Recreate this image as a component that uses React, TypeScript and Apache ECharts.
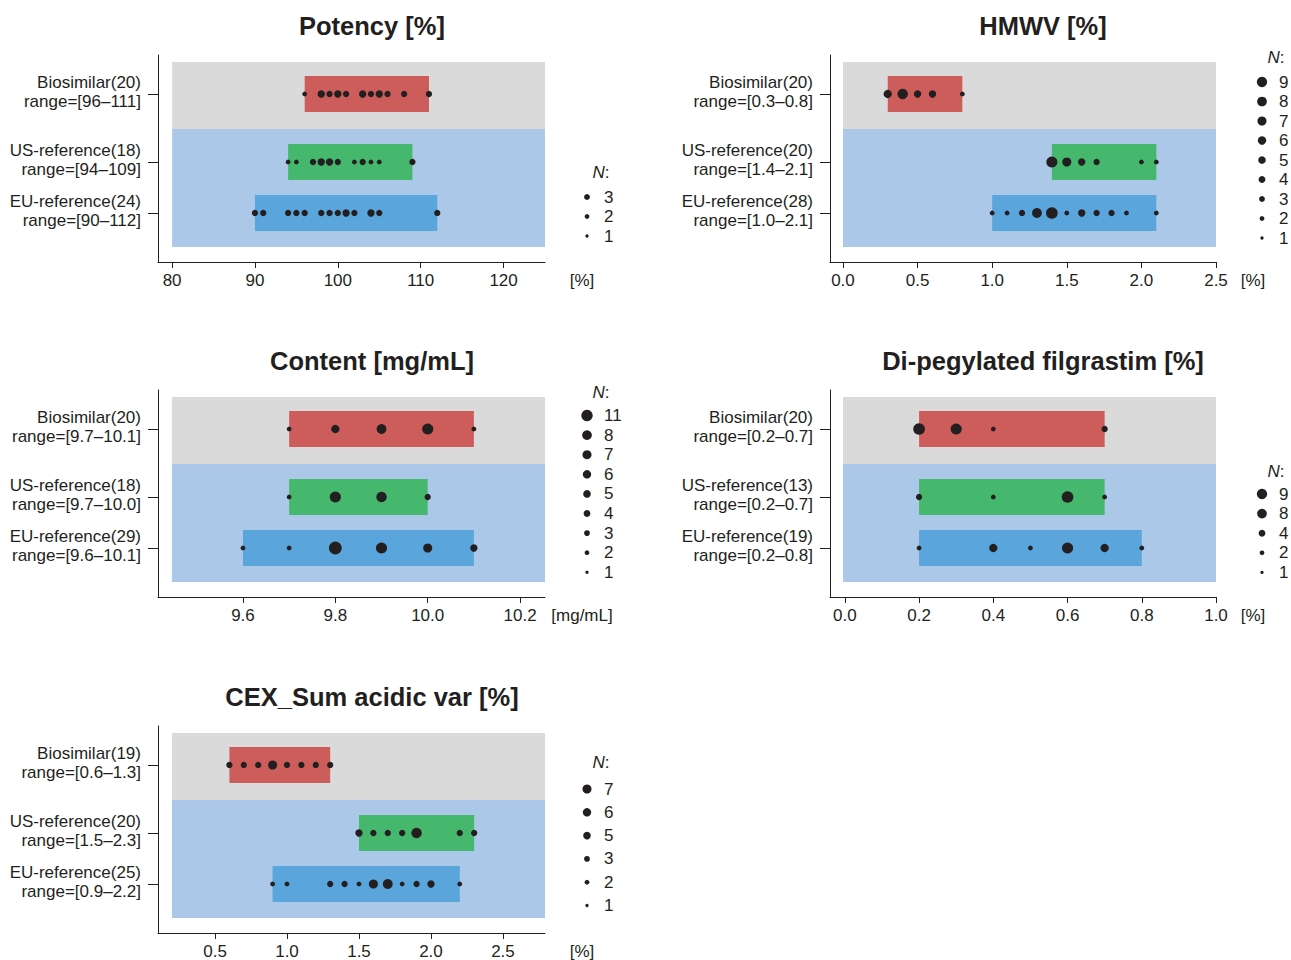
import React, { useEffect, useRef } from 'react';
import * as echarts from 'echarts';

const FONT = '"Liberation Sans", Arial, Helvetica, sans-serif';
const INK = '#231f20';
const GROUP_NAMES = ['Biosimilar', 'US-reference', 'EU-reference'];
const GROUP_COLORS = ['#CD5D5B', '#45B86E', '#5AA5DB'];
const BG_COLORS = ['#DADADA', '#ABC8E9'];

// ---------- Potency [%]
const potencyTicks = [80, 90, 100, 110, 120];
const potencyN = [20, 18, 24];
const potencyRanges = [[96, 111], [94, 109], [90, 112]];
const potencyBioX = [96, 98, 99, 100, 101, 103, 104, 105, 106, 108, 111];
const potencyBioCount = [1, 3, 2, 3, 2, 3, 2, 3, 2, 2, 2];
const potencyUsX = [94, 95, 97, 98, 99, 100, 102, 103, 104, 105, 109];
const potencyUsCount = [1, 1, 2, 3, 3, 2, 1, 2, 1, 1, 2];
const potencyEuX = [90, 91, 94, 95, 96, 98, 99, 100, 101, 102, 104, 105, 112];
const potencyEuCount = [2, 2, 2, 2, 2, 2, 2, 2, 3, 2, 3, 2, 2];
const potencyLegend = [3, 2, 1];

// ---------- HMWV [%]
const hmwvTicks = [0, 0.5, 1.0, 1.5, 2.0, 2.5];
const hmwvN = [20, 20, 28];
const hmwvRanges = [[0.3, 0.8], [1.4, 2.1], [1.0, 2.1]];
const hmwvBioX = [0.3, 0.4, 0.5, 0.6, 0.8];
const hmwvBioCount = [4, 7, 3, 3, 1];
const hmwvUsX = [1.4, 1.5, 1.6, 1.7, 2.0, 2.1];
const hmwvUsCount = [8, 5, 3, 2, 1, 1];
const hmwvEuX = [1.0, 1.1, 1.2, 1.3, 1.4, 1.5, 1.6, 1.7, 1.8, 1.9, 2.1];
const hmwvEuCount = [1, 1, 2, 6, 9, 1, 3, 2, 2, 1, 1];
const hmwvLegend = [9, 8, 7, 6, 5, 4, 3, 2, 1];

// ---------- Content [mg/mL]
const contentTicks = [9.6, 9.8, 10.0, 10.2];
const contentN = [20, 18, 29];
const contentRanges = [[9.7, 10.1], [9.7, 10.0], [9.6, 10.1]];
const contentBioX = [9.7, 9.8, 9.9, 10.0, 10.1];
const contentBioCount = [1, 4, 6, 8, 1];
const contentUsX = [9.7, 9.8, 9.9, 10.0];
const contentUsCount = [1, 8, 7, 2];
const contentEuX = [9.6, 9.7, 9.8, 9.9, 10.0, 10.1];
const contentEuCount = [1, 1, 11, 8, 5, 3];
const contentLegend = [11, 8, 7, 6, 5, 4, 3, 2, 1];

// ---------- Di-pegylated filgrastim [%]
const dipegTicks = [0, 0.2, 0.4, 0.6, 0.8, 1.0];
const dipegN = [20, 13, 19];
const dipegRanges = [[0.2, 0.7], [0.2, 0.7], [0.2, 0.8]];
const dipegBioX = [0.2, 0.3, 0.4, 0.7];
const dipegBioCount = [9, 8, 1, 2];
const dipegUsX = [0.2, 0.4, 0.6, 0.7];
const dipegUsCount = [2, 1, 9, 1];
const dipegEuX = [0.2, 0.4, 0.5, 0.6, 0.7, 0.8];
const dipegEuCount = [1, 4, 1, 8, 4, 1];
const dipegLegend = [9, 8, 4, 2, 1];

// ---------- CEX_Sum acidic var [%]
const cexTicks = [0.5, 1.0, 1.5, 2.0, 2.5];
const cexN = [19, 20, 25];
const cexRanges = [[0.6, 1.3], [1.5, 2.3], [0.9, 2.2]];
const cexBioX = [0.6, 0.7, 0.8, 0.9, 1.0, 1.1, 1.2, 1.3];
const cexBioCount = [2, 2, 2, 5, 2, 2, 2, 2];
const cexUsX = [1.5, 1.6, 1.7, 1.8, 1.9, 2.2, 2.3];
const cexUsCount = [3, 2, 2, 2, 7, 2, 2];
const cexEuX = [0.9, 1.0, 1.3, 1.4, 1.5, 1.6, 1.7, 1.8, 1.9, 2.0, 2.2];
const cexEuCount = [1, 1, 2, 2, 1, 5, 6, 1, 2, 3, 1];
const cexLegend = [7, 6, 5, 3, 2, 1];

// ---------- layout
const PLOT_H = 207;
const ROW_POS = [39, 107, 158];
const BG_BANDS = [[7, 74], [74, 192]];
const BAR_HALF = 18;

const dotSize = (n: number) => 3.4 * Math.sqrt(n) + 1.5;
const legendDot = (n: number) => 3.5 * Math.sqrt(n) - 0.2;

const PANELS = [
  {
    title: 'Potency [%]', unit: '[%]', ticks: potencyTicks, dec: 0, rangeDec: 0,
    n: potencyN, ranges: potencyRanges,
    xs: [potencyBioX, potencyUsX, potencyEuX], counts: [potencyBioCount, potencyUsCount, potencyEuCount],
    legend: potencyLegend,
    min: 78.3, max: 125, bg: [80, 125],
    left: 158, top: 55, width: 387, titleX: 372, unitX: 582,
    leg: { dotX: 587, headY: 172, startY: 197, step: 19.5 },
  },
  {
    title: 'HMWV [%]', unit: '[%]', ticks: hmwvTicks, dec: 1, rangeDec: 1,
    n: hmwvN, ranges: hmwvRanges,
    xs: [hmwvBioX, hmwvUsX, hmwvEuX], counts: [hmwvBioCount, hmwvUsCount, hmwvEuCount],
    legend: hmwvLegend,
    min: -0.087, max: 2.5, bg: [0, 2.5],
    left: 830, top: 55, width: 386, titleX: 1043, unitX: 1253,
    leg: { dotX: 1262, headY: 57, startY: 82, step: 19.5 },
  },
  {
    title: 'Content [mg/mL]', unit: '[mg/mL]', ticks: contentTicks, dec: 1, rangeDec: 1,
    n: contentN, ranges: contentRanges,
    xs: [contentBioX, contentUsX, contentEuX], counts: [contentBioCount, contentUsCount, contentEuCount],
    legend: contentLegend,
    min: 9.416, max: 10.254, bg: [9.446, 10.254],
    left: 158, top: 390, width: 387, titleX: 372, unitX: 582,
    leg: { dotX: 587, headY: 392, startY: 415.5, step: 19.6 },
  },
  {
    title: 'Di-pegylated filgrastim [%]', unit: '[%]', ticks: dipegTicks, dec: 1, rangeDec: 1,
    n: dipegN, ranges: dipegRanges,
    xs: [dipegBioX, dipegUsX, dipegEuX], counts: [dipegBioCount, dipegUsCount, dipegEuCount],
    legend: dipegLegend,
    min: -0.04, max: 1.0, bg: [-0.005, 1.0],
    left: 830, top: 390, width: 386, titleX: 1043, unitX: 1253,
    leg: { dotX: 1262, headY: 471, startY: 494, step: 19.6 },
  },
  {
    title: 'CEX_Sum acidic var [%]', unit: '[%]', ticks: cexTicks, dec: 1, rangeDec: 1,
    n: cexN, ranges: cexRanges,
    xs: [cexBioX, cexUsX, cexEuX], counts: [cexBioCount, cexUsCount, cexEuCount],
    legend: cexLegend,
    min: 0.104, max: 2.792, bg: [0.201, 2.792],
    left: 158, top: 726, width: 387, titleX: 372, unitX: 582,
    leg: { dotX: 587, headY: 762, startY: 789, step: 23.3 },
  },
];

function nearestIdx(arr: number[], v: number) {
  let best = 0;
  for (let i = 1; i < arr.length; i++) if (Math.abs(arr[i] - v) < Math.abs(arr[best] - v)) best = i;
  return best;
}

function buildOption() {
  const grid: any[] = [];
  const xAxis: any[] = [];
  const yAxis: any[] = [];
  const series: any[] = [];
  const graphic: any[] = [];

  PANELS.forEach((p, i) => {
    grid.push({ left: p.left, top: p.top, width: p.width, height: PLOT_H, containLabel: false, outerBoundsMode: 'none' });
    xAxis.push({
      type: 'value', gridIndex: i, min: p.min, max: p.max,
      axisLine: { show: true, onZero: false, lineStyle: { color: INK, width: 1 } },
      axisTick: { show: true, length: 6, customValues: p.ticks, lineStyle: { color: INK, width: 1 } },
      axisLabel: {
        customValues: p.ticks, formatter: (v: number) => v.toFixed(p.dec),
        color: INK, fontSize: 17, fontFamily: FONT, margin: 10,
      },
      splitLine: { show: false },
    });
    yAxis.push({
      type: 'value', gridIndex: i, min: 0, max: PLOT_H, inverse: true,
      axisLine: { show: true, onZero: false, lineStyle: { color: INK, width: 1 } },
      axisTick: { show: true, length: 10, customValues: ROW_POS, lineStyle: { color: INK, width: 1 } },
      axisLabel: {
        customValues: ROW_POS,
        formatter: (v: number) => {
          const k = nearestIdx(ROW_POS, v);
          const r = p.ranges[k];
          return `{a|${GROUP_NAMES[k]}(${p.n[k]})}\n{a|range=[${r[0].toFixed(p.rangeDec)}–${r[1].toFixed(p.rangeDec)}]}\n{s| }`;
        },
        color: INK, fontSize: 17, fontFamily: FONT, margin: 17, align: 'right',
        rich: {
          a: { fontSize: 17, fontFamily: FONT, color: INK, lineHeight: 19, align: 'right' },
          s: { fontSize: 2, lineHeight: 4, align: 'right' },
        },
      },
      splitLine: { show: false },
    });

    // background bands
    series.push({
      type: 'custom', xAxisIndex: i, yAxisIndex: i, z: 1, silent: true,
      data: BG_BANDS.map((b, bi) => [p.bg[0], p.bg[1], b[0], b[1], bi]),
      encode: { x: [0, 1], y: [2, 3] },
      renderItem: (params: any, api: any) => {
        const a = api.coord([api.value(0), api.value(2)]);
        const b = api.coord([api.value(1), api.value(3)]);
        return {
          type: 'rect',
          shape: { x: a[0], y: a[1], width: b[0] - a[0], height: b[1] - a[1] },
          style: { fill: BG_COLORS[api.value(4)] },
        };
      },
    });
    // range bars
    series.push({
      type: 'custom', xAxisIndex: i, yAxisIndex: i, z: 2, silent: true,
      data: p.ranges.map((r, gi) => [r[0], r[1], ROW_POS[gi], gi]),
      encode: { x: [0, 1], y: 2 },
      renderItem: (params: any, api: any) => {
        const a = api.coord([api.value(0), api.value(2)]);
        const b = api.coord([api.value(1), api.value(2)]);
        return {
          type: 'rect',
          shape: { x: a[0], y: a[1] - BAR_HALF, width: b[0] - a[0], height: BAR_HALF * 2 },
          style: { fill: GROUP_COLORS[api.value(3)] },
        };
      },
    });
    // dots
    const dots: number[][] = [];
    p.xs.forEach((xsArr, gi) => xsArr.forEach((x, k) => dots.push([x, ROW_POS[gi], p.counts[gi][k]])));
    series.push({
      type: 'scatter', xAxisIndex: i, yAxisIndex: i, z: 3, silent: true,
      data: dots,
      symbol: 'circle',
      symbolSize: (val: number[]) => dotSize(val[2]),
      itemStyle: { color: INK, opacity: 1 },
    });

    // title
    graphic.push({
      type: 'text', x: p.titleX, y: p.top - 29,
      style: {
        text: p.title, fill: INK, fontSize: 25.5, fontWeight: 'bold', fontFamily: FONT,
        align: 'center', verticalAlign: 'middle',
      },
    });
    // unit
    graphic.push({
      type: 'text', x: p.unitX, y: p.top + PLOT_H + 18,
      style: { text: p.unit, fill: INK, fontSize: 17, fontFamily: FONT, align: 'center', verticalAlign: 'middle' },
    });
    // legend
    graphic.push({
      type: 'text', x: p.leg.dotX + 14, y: p.leg.headY,
      style: {
        text: '{i|N}:', fill: INK, fontSize: 17, fontFamily: FONT, align: 'center', verticalAlign: 'middle',
        rich: { i: { fontStyle: 'italic', fontSize: 17, fontFamily: FONT, fill: INK } },
      },
    });
    p.legend.forEach((nv, k) => {
      const cy = p.leg.startY + k * p.leg.step;
      graphic.push({
        type: 'circle', shape: { cx: p.leg.dotX, cy, r: legendDot(nv) / 2 },
        style: { fill: INK },
      });
      graphic.push({
        type: 'text', x: p.leg.dotX + 17, y: cy,
        style: { text: String(nv), fill: INK, fontSize: 17, fontFamily: FONT, align: 'left', verticalAlign: 'middle' },
      });
    });
  });

  return {
    animation: false,
    backgroundColor: '#ffffff',
    tooltip: { show: false },
    grid, xAxis, yAxis, series, graphic,
  };
}

export default function App() {
  const ref = useRef<HTMLDivElement>(null);
  useEffect(() => {
    document.body.style.margin = '0';
    if (!ref.current) return;
    const chart = echarts.init(ref.current, undefined, { renderer: 'svg' });
    chart.setOption(buildOption() as any);
    return () => chart.dispose();
  }, []);
  return (
    <div style={{ position: 'absolute', left: 0, top: 0, width: 1291, height: 960, overflow: 'hidden' }}>
      <div ref={ref} style={{ width: 1291, height: 960, background: '#fff' }} />
    </div>
  );
}
